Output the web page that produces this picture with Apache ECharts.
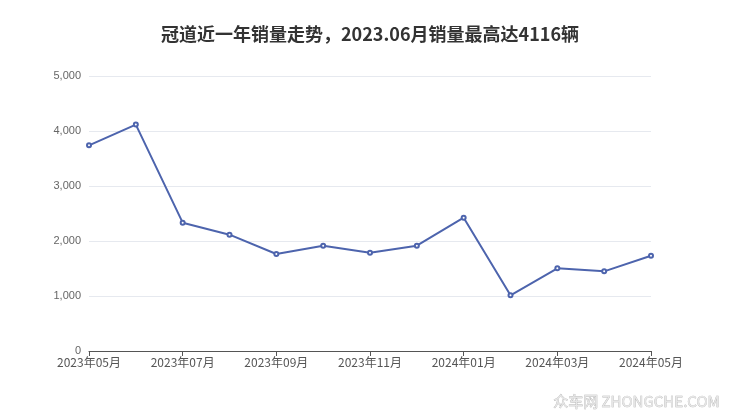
<!DOCTYPE html>
<html><head><meta charset="utf-8">
<script src="https://cdn.jsdelivr.net/npm/echarts@6/dist/echarts.min.js"></script>
<style>html,body{margin:0;padding:0;background:#fff}#c{width:740px;height:417px}</style>
</head><body><div id="c"></div>
<script>
var titleText = '冠道近一年销量走势，2023.06月销量最高达4116辆';
var categories = ['2023年05月','2023年06月','2023年07月','2023年08月','2023年09月','2023年10月','2023年11月','2023年12月','2024年01月','2024年02月','2024年03月','2024年04月','2024年05月'];
var sales = [3740, 4116, 2333, 2115, 1764, 1915, 1788, 1915, 2424, 1012, 1503, 1448, 1733];
var yTicks = [0, 1000, 2000, 3000, 4000, 5000];

var chart = echarts.init(document.getElementById('c'));
chart.setOption({
  animation: false,
  title: {text: titleText, left: 'center', top: 20, textStyle: {fontSize: 18, fontWeight: 'bold', color: '#333', fontFamily: 'Noto Sans CJK SC'}},
  grid: {left: 89, right: 89, top: 76, bottom: 66},
  xAxis: {type: 'category', data: categories, boundaryGap: false,
    axisLine: {lineStyle: {color: '#555'}},
    axisTick: {interval: 1, lineStyle: {color: '#555'}},
    axisLabel: {interval: 1, color: '#555', fontSize: 12, fontFamily: 'Noto Sans CJK SC', margin: 5}},
  yAxis: {type: 'value', min: yTicks[0], max: yTicks[yTicks.length-1], interval: 1000,
    axisLabel: {color: '#666', fontSize: 11, margin: 8, formatter: function(v){return v.toLocaleString('en-US');}},
    splitLine: {lineStyle: {color: '#e6e9ef'}}},
  series: [{type: 'line', data: sales, symbol: 'emptyCircle', symbolSize: 4, showAllSymbol: true,
    lineStyle: {color: '#4d64ad', width: 2}, itemStyle: {color: '#4d64ad'}}],
  graphic: [{type: 'text', right: 20, bottom: 8, style: {text: '众车网 ZHONGCHE.COM', fill: '#e6e6e6', fontSize: 15, fontFamily: 'Noto Sans CJK SC', stroke: '#b0b0b0', lineWidth: 0.6}}]
});
</script></body></html>
